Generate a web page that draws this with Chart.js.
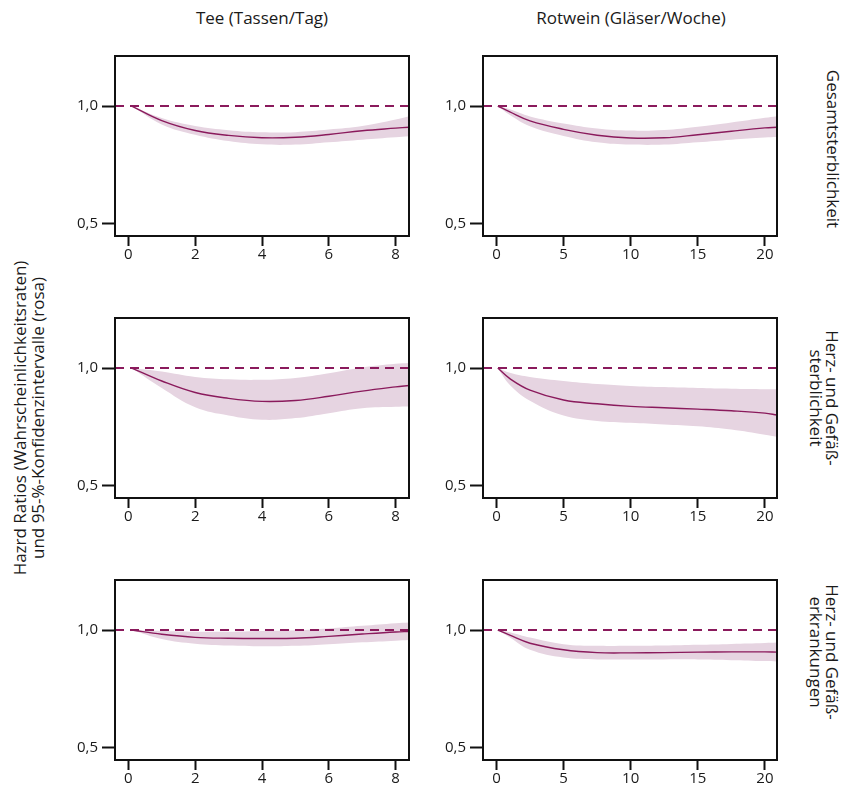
<!DOCTYPE html>
<html>
<head>
<meta charset="utf-8">
<script src="https://cdn.jsdelivr.net/npm/chart.js@4/dist/chart.umd.min.js"></script>
<style>
  body { margin: 0; background: #fff; }
  #page { position: relative; width: 855px; height: 789px; font-family: 'Open Sans', sans-serif; color: #1a1a1a; }
  .panel { position: absolute; }
  .coltitle { position: absolute; top: 7px; font-size: 17px; line-height: 22px; transform: translateX(-50%); white-space: nowrap; }
  .rot { position: absolute; font-size: 17px; white-space: nowrap; text-align: center; }
</style>
</head>
<body>
<div id="page">
  <div class="coltitle" style="left:262px">Tee (Tassen/Tag)</div>
  <div class="coltitle" style="left:631px">Rotwein (Gläser/Woche)</div>

  <div class="rot" style="left:29px; top:418px; line-height:18px; transform:translate(-50%,-50%) rotate(-90deg)">Hazrd Ratios (Wahrscheinlichkeitsraten)<br>und 95-%-Konfidenzintervalle (rosa)</div>

  <div class="rot" style="left:833px; top:149px; line-height:16px; transform:translate(-50%,-50%) rotate(90deg)">Gesamtsterblichkeit</div>
  <div class="rot" style="left:824px; top:398px; line-height:16px; transform:translate(-50%,-50%) rotate(90deg)">Herz- und Gefäß-<br>sterblichkeit</div>
  <div class="rot" style="left:824px; top:652px; line-height:16px; transform:translate(-50%,-50%) rotate(90deg)">Herz- und Gefäß-<br>erkrankungen</div>

  <div class="panel" style="left:55px; top:43px; width:364px; height:228px"><canvas id="teeGesamt"></canvas></div>
  <div class="panel" style="left:423px; top:43px; width:364px; height:228px"><canvas id="weinGesamt"></canvas></div>
  <div class="panel" style="left:55px; top:305px; width:364px; height:228px"><canvas id="teeHerzTod"></canvas></div>
  <div class="panel" style="left:423px; top:305px; width:364px; height:228px"><canvas id="weinHerzTod"></canvas></div>
  <div class="panel" style="left:55px; top:567px; width:364px; height:228px"><canvas id="teeHerzKrank"></canvas></div>
  <div class="panel" style="left:423px; top:567px; width:364px; height:228px"><canvas id="weinHerzKrank"></canvas></div>
</div>

<script>
// x positions (Tassen/Tag bzw. Gläser/Woche)
var teeX  = [0.1, 1, 2, 3, 4, 5, 6, 7, 8, 8.4];
var weinX = [0.1, 1, 2.5, 5, 7.5, 10, 12.5, 15, 17.5, 20, 20.9];

// tick labels
var hrTicks   = [0.5, 1.0];
var teeTicks  = [0, 2, 4, 6, 8];
var weinTicks = [0, 5, 10, 15, 20];

// axis ranges
var hrRange   = [0.447, 1.213];
var teeRange  = [-0.4, 8.4];
var weinRange = [-1.0, 20.9];
var refHR = 1.0;

// Tee - Gesamtsterblichkeit
var teeGesamtHR = [1.0, 0.938, 0.896, 0.875, 0.865, 0.867, 0.879, 0.895, 0.906, 0.91];
var teeGesamtLo = [1.0, 0.922, 0.878, 0.851, 0.837, 0.836, 0.846, 0.857, 0.867, 0.871];
var teeGesamtHi = [1.0, 0.949, 0.915, 0.897, 0.888, 0.889, 0.900, 0.915, 0.943, 0.957];

// Rotwein - Gesamtsterblichkeit
var weinGesamtHR = [1.0, 0.975, 0.937, 0.901, 0.876, 0.864, 0.865, 0.878, 0.893, 0.907, 0.91];
var weinGesamtLo = [1.0, 0.962, 0.914, 0.873, 0.846, 0.836, 0.836, 0.846, 0.857, 0.866, 0.868];
var weinGesamtHi = [1.0, 0.986, 0.956, 0.926, 0.905, 0.896, 0.898, 0.912, 0.930, 0.950, 0.957];

// Tee - Herz- und Gefaesssterblichkeit
var teeHerzTodHR = [1.0, 0.945, 0.896, 0.871, 0.858, 0.862, 0.880, 0.902, 0.920, 0.926];
var teeHerzTodLo = [1.0, 0.915, 0.833, 0.798, 0.780, 0.787, 0.808, 0.829, 0.835, 0.836];
var teeHerzTodHi = [1.0, 0.985, 0.962, 0.952, 0.950, 0.958, 0.978, 1.002, 1.018, 1.021];

// Rotwein - Herz- und Gefaesssterblichkeit
var weinHerzTodHR = [1.0, 0.955, 0.906, 0.864, 0.848, 0.837, 0.831, 0.825, 0.818, 0.808, 0.80];
var weinHerzTodLo = [1.0, 0.928, 0.861, 0.798, 0.775, 0.767, 0.760, 0.752, 0.738, 0.716, 0.708];
var weinHerzTodHi = [1.0, 0.980, 0.962, 0.945, 0.932, 0.924, 0.919, 0.915, 0.912, 0.910, 0.910];

// Tee - Herz- und Gefaesserkrankungen
var teeHerzKrankHR = [1.0, 0.982, 0.969, 0.965, 0.964, 0.965, 0.973, 0.983, 0.992, 0.994];
var teeHerzKrankLo = [1.0, 0.962, 0.942, 0.934, 0.931, 0.933, 0.940, 0.948, 0.955, 0.958];
var teeHerzKrankHi = [1.0, 0.996, 0.993, 0.993, 0.996, 0.999, 1.007, 1.018, 1.029, 1.032];

// Rotwein - Herz- und Gefaesserkrankungen
var weinHerzKrankHR = [1.0, 0.978, 0.944, 0.916, 0.904, 0.903, 0.904, 0.906, 0.907, 0.907, 0.906];
var weinHerzKrankLo = [1.0, 0.968, 0.916, 0.883, 0.875, 0.875, 0.875, 0.875, 0.872, 0.868, 0.866];
var weinHerzKrankHi = [1.0, 0.991, 0.968, 0.940, 0.933, 0.933, 0.934, 0.937, 0.941, 0.945, 0.947];

var lineColor = '#8a1a5c';
var bandColor = 'rgba(230, 212, 225, 1)';
var fontFamily = "'Open Sans', sans-serif";

// box around the plot area
var framePlugin = {
    id: 'frame',
    afterDraw: function (chart) {
        var a = chart.chartArea;
        var ctx = chart.ctx;
        ctx.save();
        ctx.strokeStyle = '#111';
        ctx.lineWidth = 2;
        ctx.strokeRect(a.left, a.top, a.right - a.left, a.bottom - a.top);
        ctx.restore();
    }
};

function toXY(xs, ys) {
    return xs.map(function (x, i) { return { x: x, y: ys[i] }; });
}

function makePanel(id, xs, hr, lo, hi, xTicks, xRange) {
    var ctx = document.getElementById(id).getContext('2d');
    return new Chart(ctx, {
        type: 'line',
        data: {
            datasets: [{
                data: [{ x: xRange[0], y: refHR }, { x: xRange[1], y: refHR }],
                borderColor: lineColor,
                borderWidth: 2,
                borderDash: [9, 6],
                pointRadius: 0,
                tension: 0,
                fill: false
            },
            {
                data: toXY(xs, hr),
                borderColor: lineColor,
                borderWidth: 1.4,
                pointRadius: 0,
                tension: 0.4,
                fill: false
            },
            {
                data: toXY(xs, lo),
                borderColor: 'transparent',
                borderWidth: 0,
                pointRadius: 0,
                tension: 0.4,
                fill: false
            },
            {
                data: toXY(xs, hi),
                borderColor: 'transparent',
                borderWidth: 0,
                backgroundColor: bandColor,
                pointRadius: 0,
                tension: 0.4,
                fill: '-1'
            }]
        },
        options: {
            responsive: true,
            maintainAspectRatio: false,
            animation: false,
            events: [],
            layout: { padding: { top: 10, right: 10, left: 0, bottom: 0 } },
            plugins: { legend: { display: false }, tooltip: { enabled: false } },
            scales: {
                x: {
                    type: 'linear',
                    min: xRange[0],
                    max: xRange[1],
                    afterBuildTicks: function (s) { s.ticks = xTicks.map(function (v) { return { value: v }; }); },
                    afterFit: function (s) { s.height = 35; },
                    grid: { display: true, drawOnChartArea: false, drawTicks: true, tickLength: 10, tickWidth: 2, tickColor: '#111' },
                    border: { display: false },
                    ticks: { font: { family: fontFamily, size: 15 }, color: '#1a1a1a', padding: 0, maxRotation: 0, autoSkip: false }
                },
                y: {
                    type: 'linear',
                    min: hrRange[0],
                    max: hrRange[1],
                    afterBuildTicks: function (s) { s.ticks = hrTicks.map(function (v) { return { value: v }; }); },
                    afterFit: function (s) { s.width = 60; },
                    grid: { display: true, drawOnChartArea: false, drawTicks: true, tickLength: 13, tickWidth: 2, tickColor: '#111' },
                    border: { display: false },
                    ticks: {
                        font: { family: fontFamily, size: 15 },
                        color: '#1a1a1a',
                        padding: 4,
                        callback: function (v) { return v.toFixed(1).replace('.', ','); }
                    }
                }
            }
        },
        plugins: [framePlugin]
    });
}

makePanel('teeGesamt', teeX, teeGesamtHR, teeGesamtLo, teeGesamtHi, teeTicks, teeRange);
makePanel('weinGesamt', weinX, weinGesamtHR, weinGesamtLo, weinGesamtHi, weinTicks, weinRange);
makePanel('teeHerzTod', teeX, teeHerzTodHR, teeHerzTodLo, teeHerzTodHi, teeTicks, teeRange);
makePanel('weinHerzTod', weinX, weinHerzTodHR, weinHerzTodLo, weinHerzTodHi, weinTicks, weinRange);
makePanel('teeHerzKrank', teeX, teeHerzKrankHR, teeHerzKrankLo, teeHerzKrankHi, teeTicks, teeRange);
makePanel('weinHerzKrank', weinX, weinHerzKrankHR, weinHerzKrankLo, weinHerzKrankHi, weinTicks, weinRange);
</script>
</body>
</html>
